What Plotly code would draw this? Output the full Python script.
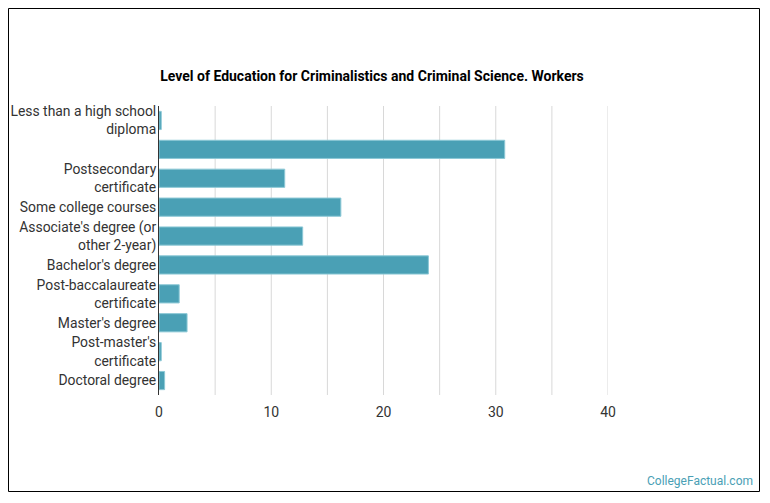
import plotly.graph_objects as go

categories = [
    "Less than a high school diploma",
    "High school diploma or equivalent",
    "Postsecondary certificate",
    "Some college courses",
    "Associate's degree (or other 2-year)",
    "Bachelor's degree",
    "Post-baccalaureate certificate",
    "Master's degree",
    "Post-master's certificate",
    "Doctoral degree",
]
tick_labels = [
    "Less than a high school<br>diploma",
    "",
    "Postsecondary<br>certificate",
    "Some college courses",
    "Associate's degree (or<br>other 2-year)",
    "Bachelor's degree",
    "Post-baccalaureate<br>certificate",
    "Master's degree",
    "Post-master's<br>certificate",
    "Doctoral degree",
]
values = [0.2, 30.8, 11.2, 16.2, 12.8, 24.0, 1.8, 2.5, 0.2, 0.5]
x_ticks = [0, 10, 20, 30, 40]
grid_vals = [5, 10, 15, 20, 25, 30, 35, 40]

# page has an 8px body margin; figure coordinates = screen - 8
OFF = 8
W, H = 754, 487
L, R, T, B = 159 - OFF, 608 - OFF, 106 - OFF, 395 - OFF

fig = go.Figure(go.Bar(
    x=values, y=categories, orientation="h",
    marker=dict(color="#4aa0b5", line=dict(color="#8cc8d6", width=1)),
    hoverinfo="x+y",
))

def px(x):
    return (x - L) / (R - L)

def py(y):
    return (B - y) / (B - T)

fig.update_layout(
    width=W, height=H,
    margin=dict(l=L, r=W - R, t=T, b=H - B, pad=0, autoexpand=False),
    paper_bgcolor="white", plot_bgcolor="white",
    font=dict(family="Roboto, sans-serif", size=14, color="#333333"),
    showlegend=False,
    bargap=0.37,
    title=dict(
        text="<b>Level of Education for Criminalistics and Criminal Science. Workers</b>",
        x=(372 - OFF) / W, xanchor="center", y=1 - (76 - OFF) / H, yanchor="middle",
        font=dict(size=14, color="#000000", family="Roboto, sans-serif"),
    ),
    xaxis=dict(
        range=[0, 40], tickvals=x_ticks,
        showgrid=False, zeroline=False, showline=False,
        ticks="", ticklabelstandoff=7,
        tickfont=dict(size=14, color="#333333"),
        automargin=False, fixedrange=True,
    ),
    yaxis=dict(
        categoryorder="array", categoryarray=categories,
        autorange="reversed",
        tickvals=categories, ticktext=tick_labels,
        showgrid=False, zeroline=False,
        showline=True, linecolor="#333333", linewidth=1,
        ticks="", ticklabelstandoff=-1,
        tickfont=dict(size=13.9, color="#333333"),
        automargin=False, fixedrange=True,
    ),
    shapes=[
        dict(type="line", xref="x", yref="paper", x0=g, x1=g, y0=0, y1=1,
             line=dict(color="#d8d8d8", width=1), layer="below")
        for g in grid_vals
    ] + [
        dict(type="rect", xref="paper", yref="paper",
             x0=px(0.5), x1=px(751.5), y0=py(0.5), y1=py(483.5),
             line=dict(color="#000000", width=1), fillcolor="rgba(0,0,0,0)"),
    ],
    annotations=[
        dict(text="CollegeFactual.com", xref="paper", yref="paper",
             x=px(755 - OFF), y=py(481 - OFF), xanchor="right", yanchor="middle",
             showarrow=False, font=dict(size=12, color="#4aa0b5", family="Roboto, sans-serif")),
    ],
)

fig.write_html("out.html")
